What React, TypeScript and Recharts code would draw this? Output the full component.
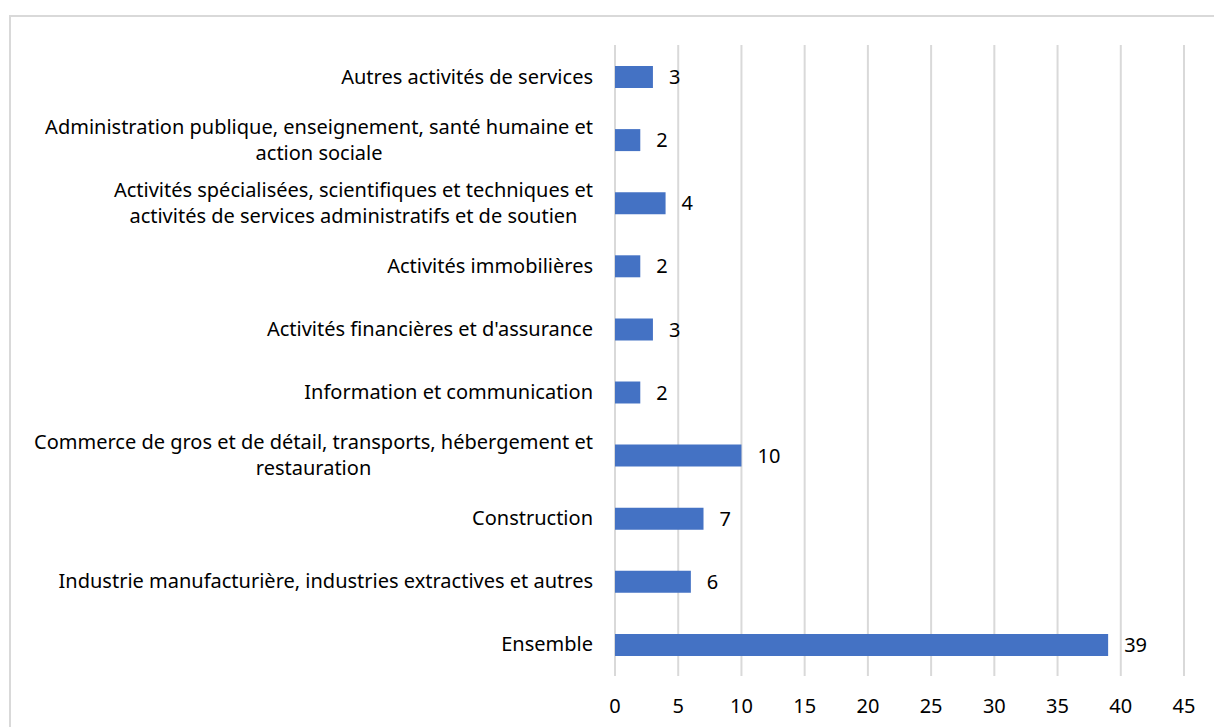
import { BarChart, Bar, XAxis, YAxis, CartesianGrid, LabelList } from 'recharts';

const categories = [
  'Autres activités de services',
  'Administration publique, enseignement, santé humaine et\naction sociale',
  'Activités spécialisées, scientifiques et techniques et\nactivités de services administratifs et de soutien',
  'Activités immobilières',
  "Activités financières et d'assurance",
  'Information et communication',
  'Commerce de gros et de détail, transports, hébergement et\nrestauration',
  'Construction',
  'Industrie manufacturière, industries extractives et autres',
  'Ensemble',
];

const values = [3, 2, 4, 2, 3, 2, 10, 7, 6, 39];

const xTicks = [0, 5, 10, 15, 20, 25, 30, 35, 40, 45];

const data = categories.map((name, i) => ({ name, value: values[i] }));

const FONT = '"Noto Sans", sans-serif';
const FONT_SIZE = 20;

let ctx: CanvasRenderingContext2D | null = null;
function measure(s: string) {
  if (!ctx) ctx = document.createElement('canvas').getContext('2d');
  if (!ctx) return s.length * 10;
  ctx.font = `${FONT_SIZE}px ${FONT}`;
  return ctx.measureText(s).width;
}

function CategoryTick(props: any) {
  const { x, y, payload } = props;
  const lines: string[] = String(payload.value).split('\n');
  const widest = Math.max(...lines.map(measure));
  const cx = x - widest / 2;
  const lh = 26;
  const top = y - ((lines.length - 1) * lh) / 2;
  return (
    <g>
      {lines.map((l, i) => (
        <text
          key={i}
          x={cx}
          y={top + i * lh}
          dy="0.35em"
          textAnchor="middle"
          fill="#000"
          fontSize={FONT_SIZE}
          fontFamily={FONT}
        >
          {l}
        </text>
      ))}
    </g>
  );
}

export default function App() {
  return (
    <div style={{ position: 'absolute', left: 0, top: 0, width: 1214, height: 727, background: '#fff', overflow: 'hidden' }}>
      <div
        style={{
          position: 'absolute',
          left: 9,
          top: 15,
          width: 1220,
          height: 730,
          border: '2px solid #d9d9d9',
          boxSizing: 'border-box',
        }}
      />
      <div style={{ position: 'absolute', left: 0, top: 0 }}>
        <BarChart
          width={1214}
          height={727}
          data={data}
          layout="vertical"
          margin={{ top: 45, right: 30, bottom: 11, left: 0 }}
        >
          <CartesianGrid horizontal={false} stroke="#d9d9d9" strokeWidth={2} />
          <XAxis
            type="number"
            domain={[0, 45]}
            ticks={xTicks}
            axisLine={false}
            tickLine={false}
            tickSize={0}
            tickMargin={23}
            height={40}
            tick={{ fill: '#000', fontSize: FONT_SIZE, fontFamily: FONT }}
            interval={0}
          />
          <YAxis
            type="category"
            dataKey="name"
            width={615}
            axisLine={false}
            tickLine={false}
            tickSize={0}
            tickMargin={22}
            interval={0}
            tick={<CategoryTick />}
          />
          <Bar dataKey="value" fill="#4472C4" barSize={22} isAnimationActive={false}>
            <LabelList
              dataKey="value"
              position="right"
              offset={16}
              fill="#000"
              fontSize={FONT_SIZE}
              fontFamily={FONT}
            />
          </Bar>
        </BarChart>
      </div>
    </div>
  );
}
